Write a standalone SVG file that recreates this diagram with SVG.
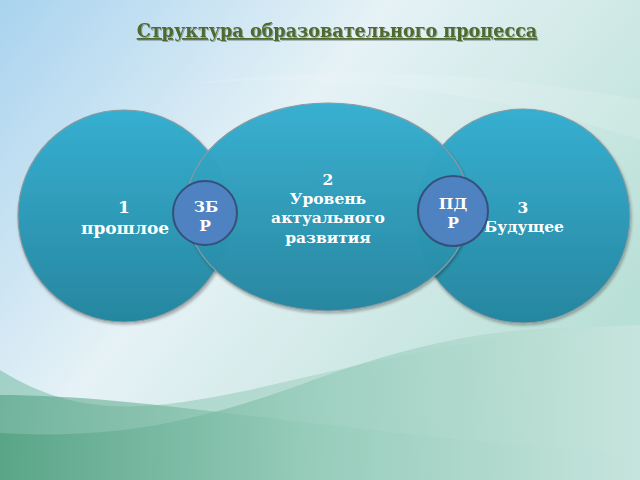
<svg xmlns="http://www.w3.org/2000/svg" width="640" height="480" viewBox="0 0 640 480">
<defs>
<linearGradient id="bg" x1="0" y1="0" x2="1" y2="0.6">
<stop offset="0" stop-color="#a9d3ef"/>
<stop offset="0.45" stop-color="#e6f2f6"/>
<stop offset="1" stop-color="#b9e0d6"/>
</linearGradient>
<linearGradient id="g1" x1="0" y1="0" x2="1" y2="0">
<stop offset="0" stop-color="#4f9f80"/>
<stop offset="0.5" stop-color="#94cbb9"/>
<stop offset="1" stop-color="#c6e4dd"/>
</linearGradient>
<linearGradient id="g2" x1="0" y1="0" x2="1" y2="0">
<stop offset="0" stop-color="#7dbfa8"/>
<stop offset="1" stop-color="#cfe8e2"/>
</linearGradient>
<linearGradient id="cg" x1="0" y1="0" x2="0" y2="1">
<stop offset="0" stop-color="#36afd1"/>
<stop offset="1" stop-color="#27869f"/>
</linearGradient>
<filter id="sh" x="-10%" y="-10%" width="120%" height="120%">
<feDropShadow dx="1" dy="2" stdDeviation="1.5" flood-color="#000" flood-opacity="0.3"/>
</filter>
<filter id="tsh"><feDropShadow dx="1" dy="1" stdDeviation="0.6" flood-color="#000" flood-opacity="0.3"/></filter>
</defs>
<style>
.big{fill:url(#cg);stroke:#8a9aa0;stroke-width:1.2}
.sm{fill:#4f82c0;stroke:#35507a;stroke-width:2}
.t{font-family:"DejaVu Serif",serif;font-weight:bold;fill:#ffffff;text-anchor:middle}
.title{font-family:"DejaVu Serif",serif;font-weight:bold;fill:#4f6a2e;font-size:17.6px;text-decoration:underline;text-anchor:middle}
</style>
<rect width="640" height="480" fill="url(#bg)"/>
<path d="M180 85 C350 70 500 95 640 140 L640 100 C480 70 330 65 180 85 Z" fill="#ffffff" opacity="0.12"/>
<path d="M0 370 C80 420 150 410 250 390 C380 360 500 330 640 325 L640 480 L0 480 Z" fill="url(#g2)" opacity="0.6"/>
<path d="M0 395 C150 395 300 430 640 455 L640 480 L0 480 Z" fill="url(#g1)" opacity="0.6"/>
<path d="M0 433 C120 440 200 420 300 385 C420 340 520 320 640 330 L640 480 L0 480 Z" fill="url(#g1)" opacity="0.7"/>
<text class="title" x="337" y="37" filter="url(#tsh)">Структура образовательного процесса</text>
<g id="node-past">
<circle class="big" cx="124" cy="216" r="106" filter="url(#sh)"/>
<text class="t" x="124" y="213" font-size="17">1</text>
<text class="t" x="125" y="234" font-size="17">прошлое</text>
</g>
<g id="node-future">
<circle class="big" cx="523" cy="216" r="107" filter="url(#sh)"/>
<text class="t" x="523" y="213" font-size="15.5">3</text>
<text class="t" x="524" y="232" font-size="15.5">Будущее</text>
</g>
<g id="node-current">
<ellipse class="big" cx="328" cy="207" rx="142" ry="104" filter="url(#sh)" opacity="0.98"/>
<text class="t" x="328" y="185" font-size="15.5">2</text>
<text class="t" x="328" y="204" font-size="15.5">Уровень</text>
<text class="t" x="328" y="223" font-size="15.5">актуального</text>
<text class="t" x="328" y="243" font-size="15.5">развития</text>
</g>
<g id="connectors"></g>
<g id="node-zbr">
<circle class="sm" cx="205" cy="213" r="32"/>
<text class="t" x="206" y="212" font-size="15.5">ЗБ</text>
<text class="t" x="205" y="231" font-size="15.5">Р</text>
</g>
<g id="node-pdr">
<circle class="sm" cx="453" cy="211" r="35"/>
<text class="t" x="453" y="209" font-size="15.5">ПД</text>
<text class="t" x="453" y="228" font-size="15.5">Р</text>
</g>
</svg>
